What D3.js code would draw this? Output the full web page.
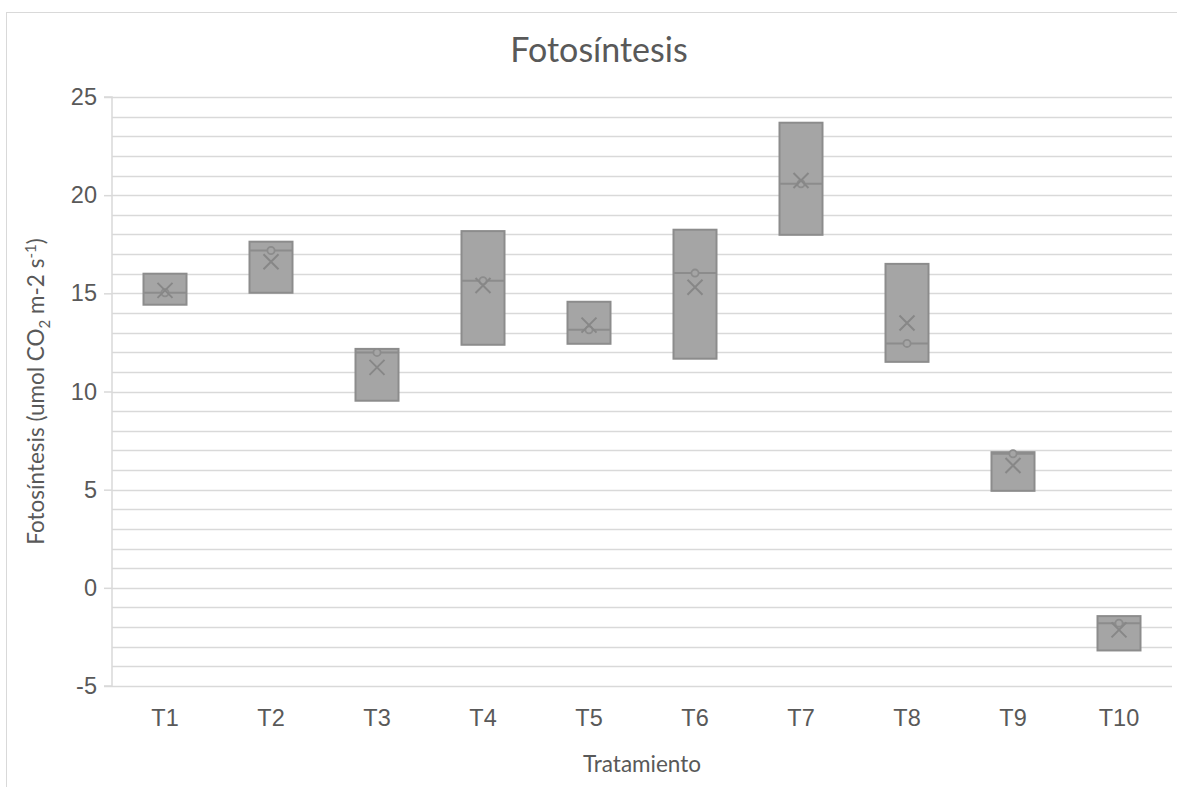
<!DOCTYPE html>
<html>
<head>
<meta charset="utf-8">
<script src="https://cdn.jsdelivr.net/npm/d3@7"></script>
<style>
  html, body { margin: 0; padding: 0; background: #fff; }
  svg { display: block; }
</style>
</head>
<body>
<svg id="chart" width="1177" height="787"></svg>
<script>
// Treatments and per-treatment summary (three replicates: low, middle, high; plus mean)
const categories = ["T1", "T2", "T3", "T4", "T5", "T6", "T7", "T8", "T9", "T10"];
const boxMin    = [14.42, 15.03,  9.53, 12.38, 12.43, 11.67, 17.98, 11.51, 4.94, -3.19];
const boxMedian = [15.03, 17.18, 11.99, 15.64, 13.14, 16.03, 20.58, 12.45, 6.83, -1.80];
const boxMax    = [16.00, 17.63, 12.17, 18.17, 14.57, 18.24, 23.69, 16.50, 6.91, -1.44];
const boxMean   = [15.15, 16.61, 11.23, 15.40, 13.38, 15.31, 20.75, 13.49, 6.23, -2.14];
const yTicks = [-5, 0, 5, 10, 15, 20, 25];
const yMinor = d3.range(-5, 26, 1);

const rows = categories.map((c, i) => ({
  cat: c, min: boxMin[i], med: boxMedian[i], max: boxMax[i], mean: boxMean[i]
}));

const svg = d3.select("#chart");
const m = { left: 112, right: 1172, top: 97, bottom: 686 };

const x = d3.scaleBand().domain(categories).range([m.left, m.right]).paddingInner(0).paddingOuter(0);
const y = d3.scaleLinear().domain([-5, 25]).range([m.bottom, m.top]);

const textCol = "#595959";
const gridCol = "#d9d9d9";
const boxFill = "#a5a5a5";
const boxStroke = "#8c8c8c";

// chart frame
svg.append("rect")
  .attr("x", 6.5).attr("y", 12.5).attr("width", 1190).attr("height", 800)
  .attr("fill", "none").attr("stroke", gridCol).attr("stroke-width", 1);

// minor gridlines every unit
svg.append("g").selectAll("line").data(yMinor).join("line")
  .attr("x1", m.left).attr("x2", m.right)
  .attr("y1", d => Math.round(y(d)) + 0.5).attr("y2", d => Math.round(y(d)) + 0.5)
  .attr("stroke", gridCol).attr("stroke-width", 1.5);

// y axis with outward major ticks
const yAxis = d3.axisLeft(y).tickValues(yTicks).tickSize(8).tickPadding(7).tickFormat(d => String(d));
const gy = svg.append("g").attr("transform", `translate(${m.left},0)`).call(yAxis);
gy.select(".domain").attr("stroke", gridCol).attr("stroke-width", 1.5).attr("d", `M-8,${m.bottom}H0V${m.top}H-8`);
gy.selectAll(".tick line").attr("stroke", gridCol).attr("stroke-width", 1.5);
gy.selectAll(".tick text").attr("fill", textCol)
  .style("font-family", "'Liberation Sans', Arial, sans-serif").style("font-size", "23.5px");

// x axis labels
const xAxis = d3.axisBottom(x).tickSize(0).tickPadding(23);
const gx = svg.append("g").attr("transform", `translate(0,${m.bottom})`).call(xAxis);
gx.select(".domain").remove();
gx.selectAll(".tick text").attr("fill", textCol)
  .style("font-family", "'Liberation Sans', Arial, sans-serif").style("font-size", "23.5px");

// boxes
const bw = 43;
const g = svg.append("g");
const item = g.selectAll("g.box").data(rows).join("g").attr("class", "box");
item.append("rect")
  .attr("x", d => x(d.cat) + x.bandwidth() / 2 - bw / 2)
  .attr("y", d => y(d.max))
  .attr("width", bw)
  .attr("height", d => y(d.min) - y(d.max))
  .attr("fill", boxFill).attr("stroke", boxStroke).attr("stroke-width", 2);
item.append("line")
  .attr("x1", d => x(d.cat) + x.bandwidth() / 2 - bw / 2)
  .attr("x2", d => x(d.cat) + x.bandwidth() / 2 + bw / 2)
  .attr("y1", d => y(d.med)).attr("y2", d => y(d.med))
  .attr("stroke", boxStroke).attr("stroke-width", 2);
// median point
item.append("circle")
  .attr("cx", d => x(d.cat) + x.bandwidth() / 2)
  .attr("cy", d => y(d.med))
  .attr("r", 3.6)
  .attr("fill", boxFill).attr("stroke", boxStroke).attr("stroke-width", 1.8);
// mean marker
const xs = 7.5;
item.append("path")
  .attr("d", d => {
    const cx = x(d.cat) + x.bandwidth() / 2, cy = y(d.mean);
    return `M${cx - xs},${cy - xs}L${cx + xs},${cy + xs}M${cx - xs},${cy + xs}L${cx + xs},${cy - xs}`;
  })
  .attr("stroke", "#878787").attr("stroke-width", 2).attr("fill", "none");

// titles
svg.append("text")
  .attr("x", 599).attr("y", 62).attr("text-anchor", "middle")
  .attr("fill", textCol)
  .style("font-family", "Lato, 'Open Sans', sans-serif").style("font-size", "34px")
  .text("Fotosíntesis");

svg.append("text")
  .attr("x", (m.left + m.right) / 2).attr("y", 772).attr("text-anchor", "middle")
  .attr("fill", textCol)
  .style("font-family", "Lato, 'Open Sans', sans-serif").style("font-size", "22.5px")
  .text("Tratamiento");

const yl = svg.append("text")
  .attr("transform", `translate(44,${(m.top + m.bottom) / 2}) rotate(-90)`)
  .attr("text-anchor", "middle")
  .attr("fill", textCol)
  .style("font-family", "Lato, 'Open Sans', sans-serif").style("font-size", "22.5px");
yl.append("tspan").text("Fotosíntesis (umol CO");
yl.append("tspan").attr("font-size", "15px").attr("dy", 6).text("2");
yl.append("tspan").attr("dy", -6).text(" m-2 s");
yl.append("tspan").attr("font-size", "15px").attr("dy", -8).text("-1");
yl.append("tspan").attr("dy", 8).text(")");
</script>
</body>
</html>
